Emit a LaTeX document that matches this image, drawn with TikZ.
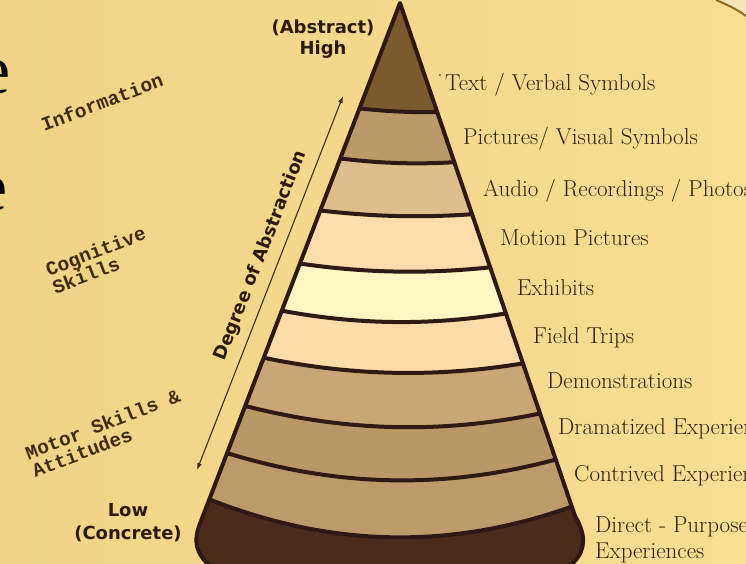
\documentclass[tikz,border=0pt]{standalone}
\usepackage{fontspec}
\newfontfamily\monofont{Liberation Mono}
\newfontfamily\headfont{DejaVu Sans}
\newfontfamily\slidefont{Liberation Serif}
\usetikzlibrary{calc,arrows.meta}

\definecolor{bgleft}{HTML}{F0D386}
\definecolor{bgright}{HTML}{F7DE93}
\definecolor{cream}{HTML}{F5E5B6}
\definecolor{rimarc}{HTML}{8E6C1A}
\definecolor{rimline}{HTML}{2F1915}
\definecolor{lvltext}{HTML}{2E200E}
\definecolor{skilltext}{HTML}{3E2C12}
\definecolor{poletext}{HTML}{2B1B0F}
\definecolor{scalecol}{HTML}{3A3020}
\definecolor{bandVerbal}{HTML}{7A5B2D}
\definecolor{bandVisual}{HTML}{B99A69}
\definecolor{bandAudio}{HTML}{DDBF8D}
\definecolor{bandMotion}{HTML}{FDDDAB}
\definecolor{bandExhibit}{HTML}{FEF6C3}
\definecolor{bandTrip}{HTML}{FDDCA9}
\definecolor{bandDemo}{HTML}{C8A676}
\definecolor{bandDrama}{HTML}{B89867}
\definecolor{bandContrived}{HTML}{BB9B6A}
\definecolor{bandDirect}{HTML}{4B2C1C}

% outline of the cone, used for the clip and the rim
\def\conepath{(400,3) -- (201,521) .. controls (195,536) and (193,548) .. (206,562) .. controls (250,605) and (535,605) .. (574,562) .. controls (586,549) and (586,535) .. (575,516) -- cycle}

\tikzset{
  lvl/.style={anchor=base west, inner sep=0pt, text=lvltext, font=\fontsize{23}{26}\selectfont},
  skillbox/.style={rotate=21, align=left, inner sep=0pt, text=skilltext, font=\monofont\bfseries\fontsize{19.5}{19}\selectfont},
  polebox/.style={align=center, inner sep=0pt, text=poletext, font=\headfont\bfseries\fontsize{18}{21}\selectfont},
  rim/.style={draw=rimline, line width=4pt, line join=round},
}

\begin{document}
\begin{tikzpicture}[x=1pt,y=-1pt]
\useasboundingbox (0,0) rectangle (746,563);
\fill[left color=bgleft, right color=bgright] (0,0) rectangle (746,563);

% corner of the slide frame
\fill[cream] (716,0) .. controls (728,5) and (738,10) .. (746,16) -- (746,0) -- cycle;
\draw[line width=2pt, rimarc] (716,0) .. controls (728,5) and (738,10) .. (746,16);

% slide title, cut off at the left
\node[anchor=base east, inner sep=0pt, font=\slidefont\fontsize{70}{70}\selectfont] (titleA) at (11,93) {e};
\node[anchor=base east, inner sep=0pt, font=\slidefont\fontsize{70}{70}\selectfont] (titleB) at (8,210) {e};

% cone bands
\begin{scope}
\clip \conepath;
\fill[bandDirect] (150,0) rectangle (650,620);
\foreach \lx/\ly/\rx/\ry/\s/\col in {209.9/498/569.5/506/47/bandContrived, 227.6/452/553.7/459/33/bandDrama, 245.6/405/538.2/413/24/bandDemo, 264.1/357/521.3/363/17/bandTrip, 282.1/310/504.5/313/14/bandExhibit, 300.2/263/489/267/8.7/bandMotion, 320.5/210/471.1/214/5.3/bandAudio, 340.5/158/453.6/162/4/bandVisual, 359.7/108/436.7/112/2/bandVerbal}
  \fill[\col] (\lx,\ly) .. controls ($(\lx,\ly)!1/3!(\rx,\ry)+(0,\s)$) and ($(\lx,\ly)!2/3!(\rx,\ry)+(0,\s)$) .. (\rx,\ry) -- (\rx+40,\ry) -- (\rx+40,-10) -- (\lx-40,-10) -- (\lx-40,\ly) -- cycle;
\foreach \lx/\ly/\rx/\ry/\s in {209.9/498/569.5/506/47, 227.6/452/553.7/459/33, 245.6/405/538.2/413/24, 264.1/357/521.3/363/17, 282.1/310/504.5/313/14, 300.2/263/489/267/8.7, 320.5/210/471.1/214/5.3, 340.5/158/453.6/162/4, 359.7/108/436.7/112/2}
  \draw[rim] (\lx-4,\ly) .. controls ($(\lx,\ly)!1/3!(\rx,\ry)+(0,\s)$) and ($(\lx,\ly)!2/3!(\rx,\ry)+(0,\s)$) .. (\rx+4,\ry);
\end{scope}
\draw[rim] \conepath;

% skills on the left
\node[skillbox] (info) at (102,102) {Information};
\node[skillbox] (cogn) at (99,260) {Cognitive\\Skills};
\node[skillbox] (motor) at (106,433) {Motor Skills \&\\Attitudes};

% abstraction scale
\node[polebox] (high) at (323,39) {(Abstract)\\High};
\node[polebox, font=\headfont\bfseries\fontsize{18}{23}\selectfont] (low) at (128,523) {Low\\(Concrete)};
\coordinate (absLow) at (197,470);
\coordinate (absHigh) at (343,96);
\draw[{Latex[length=7pt,width=5pt]}-{Latex[length=7pt,width=5pt]}, line width=1.1pt, scalecol] (absLow) -- node[polebox, sloped, pos=0.555, above=9pt] (degree) {Degree of Abstraction} (absHigh);

% levels of experience
\fill[lvltext] (440,75) circle (0.8);
\node[lvl] (lblVerbal) at (445,90) {Text / Verbal Symbols};
\node[lvl] (lblVisual) at (463,144) {Pictures/ Visual Symbols};
\node[lvl] (lblAudio) at (483,196) {Audio / Recordings / Photos};
\node[lvl] (lblMotion) at (500,245) {Motion Pictures};
\node[lvl] (lblExhibit) at (517,295) {Exhibits};
\node[lvl] (lblTrip) at (533,343) {Field Trips};
\node[lvl] (lblDemo) at (547,388) {Demonstrations};
\node[lvl] (lblDrama) at (558,434) {Dramatized Experiences};
\node[lvl] (lblContrived) at (574,481) {Contrived Experiences};
\node[lvl, anchor=north west, align=left] (lblDirect) at (595,516) {Direct - Purposeful\\Experiences};
\end{tikzpicture}
\end{document}
